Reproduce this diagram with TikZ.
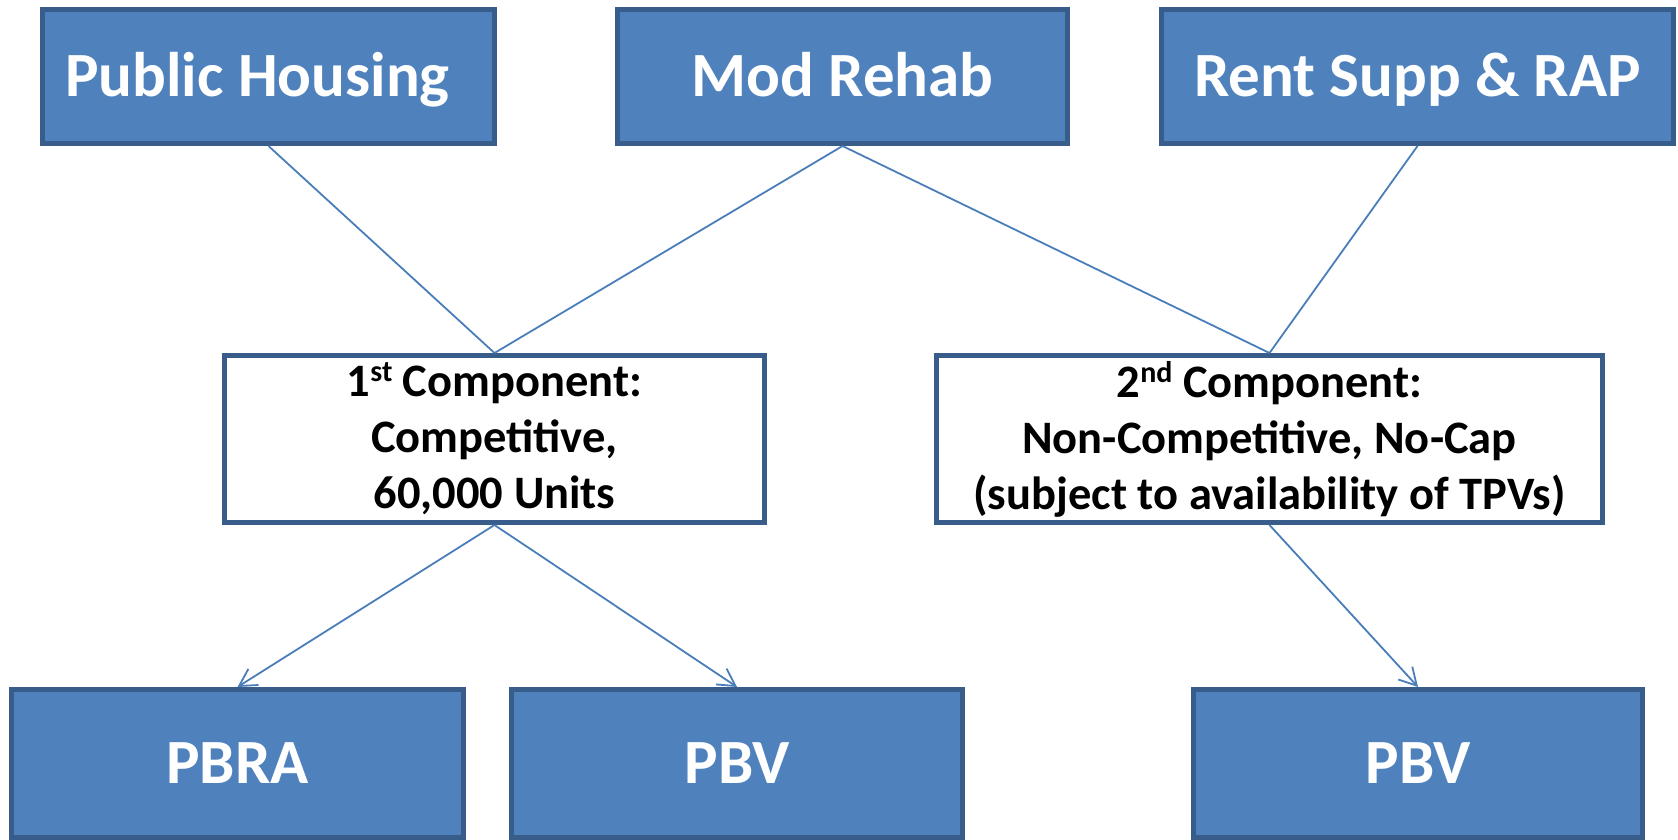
\documentclass[tikz,border=0pt]{standalone}
\usepackage{fontspec}
\setmainfont{Carlito}
\usetikzlibrary{arrows.meta}
\definecolor{boxfill}{HTML}{4F81BD}
\definecolor{boxedge}{HTML}{385D8A}
\definecolor{linkcol}{HTML}{4A7EBB}
\newcommand\ordsup[1]{\raisebox{15pt}{\fontsize{30}{30}\selectfont #1}}
\tikzset{
  bluebox/.style={draw=boxedge, fill=boxfill, line width=5pt, text=white,
    font=\fontsize{63}{70}\selectfont\bfseries, text height=40.5pt, text depth=0pt,
    inner sep=0pt},
  whitebox/.style={draw=boxedge, fill=white, line width=5pt, text=black,
    font=\fontsize{46.5}{56}\selectfont\bfseries, align=center, inner sep=0pt},
  link/.style={draw=linkcol, line width=1.8pt},
  arrowlink/.style={link, -{Straight Barb[length=17pt,width=19pt]}}
}
\begin{document}
\begin{tikzpicture}[x=1pt,y=-1pt]
\useasboundingbox (0,0) rectangle (1678,840);
\node[bluebox, minimum width=452pt, minimum height=134pt] (ph) at (268.5,76.5) {Public Housing\makebox[22pt]{}};
\node[bluebox, minimum width=450pt, minimum height=134pt] (mr) at (842.5,76.5) {Mod Rehab};
\node[bluebox, minimum width=512pt, minimum height=134pt] (rs) at (1417.5,76.5) {Rent Supp \& RAP};
\node[whitebox, minimum width=540pt, minimum height=167pt] (c1) at (494.5,439)
  {1\ordsup{st} Component:\\Competitive,\\60,000 Units};
\node[whitebox, minimum width=666pt, minimum height=167pt] (c2) at (1269.5,439)
  {2\ordsup{nd} Component:\\Non-Competitive, No-Cap\\(subject to availability of TPVs)};
\node[bluebox, minimum width=452pt, minimum height=148pt] (pbra) at (237.5,763.5) {PBRA};
\node[bluebox, minimum width=451pt, minimum height=148pt] (pbv1) at (737,763.5) {PBV};
\node[bluebox, minimum width=449pt, minimum height=148pt] (pbv2) at (1418,763.5) {PBV};
\draw[link] (ph.south) -- (c1.north);
\draw[link] (mr.south) -- (c1.north);
\draw[link] (mr.south) -- (c2.north);
\draw[link] (rs.south) -- (c2.north);
\draw[arrowlink] (c1.south) -- (pbra.north);
\draw[arrowlink] (c1.south) -- (pbv1.north);
\draw[arrowlink] (c2.south) -- (pbv2.north);
\end{tikzpicture}
\end{document}
